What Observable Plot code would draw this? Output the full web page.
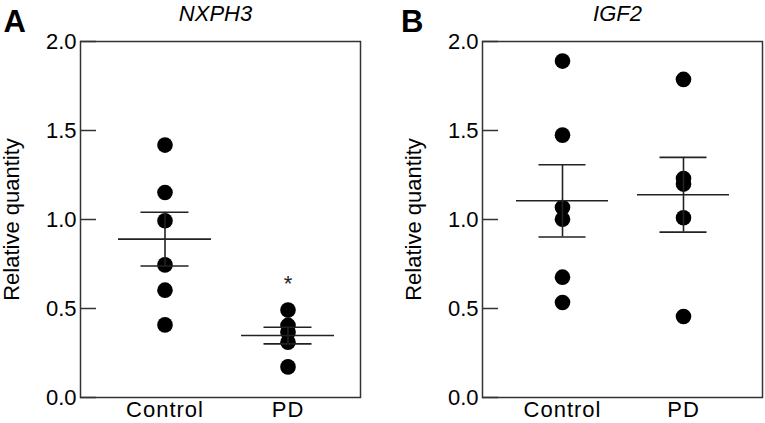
<!DOCTYPE html>
<html>
<head>
<meta charset="utf-8">
<script src="https://cdn.jsdelivr.net/npm/d3@7"></script>
<script src="https://cdn.jsdelivr.net/npm/@observablehq/plot@0.6"></script>
<style>
  html, body { margin: 0; padding: 0; background: #fff; }
  #chart { display: flex; flex-direction: row; width: 765px; height: 423px; }
</style>
</head>
<body>
<div id="chart"></div>
<script>
// ---- data ----
const panelLetters = ["A", "B"];
const genes = ["NXPH3", "IGF2"];
const groups = ["Control", "PD"];
const yTicks = [0, 0.5, 1.0, 1.5, 2.0];
const yLabel = "Relative quantity";

const nxph3Control = [1.418, 1.152, 0.993, 0.745, 0.603, 0.408];
const nxph3PD = [0.491, 0.405, 0.365, 0.31, 0.172];
const nxph3Mean = [0.890, 0.348];
const nxph3Sem = [0.151, 0.047];

const igf2Control = [1.890, 1.474, 1.067, 1.002, 0.676, 0.534];
const igf2PD = [1.787, 1.230, 1.199, 1.010, 0.455];
const igf2Mean = [1.105, 1.139];
const igf2Sem = [0.203, 0.210];

// significance marks: gene, group, y position of the mark, symbol
const sigGene = ["NXPH3"];
const sigGroup = ["PD"];
const sigY = [0.64];
const sigText = ["*"];

const FONT = "'Liberation Sans', Arial, Helvetica, sans-serif";

function panel({letter, gene, control, pd, means, sems, width, marginRight, insetLeft, insetRight, paddingInner, letterDx}) {
  const points = [
    ...control.map(v => ({group: groups[0], value: v})),
    ...pd.map(v => ({group: groups[1], value: v}))
  ];
  const stats = groups.map((g, i) => ({group: g, mean: means[i], lo: means[i] - sems[i], hi: means[i] + sems[i]}));
  const sig = sigGene.map((g, i) => ({gene: g, group: sigGroup[i], y: sigY[i], text: sigText[i]})).filter(d => d.gene === gene);

  const svg = Plot.plot({
    width,
    height: 423,
    marginLeft: 80,
    marginRight,
    marginTop: 41,
    marginBottom: 26,
    style: {fontFamily: FONT, fontSize: "22px", color: "#000", background: "#fff", overflow: "visible"},
    x: {type: "band", domain: groups, paddingInner, paddingOuter: 0, insetLeft, insetRight, label: null},
    y: {domain: [0, 2], label: null},
    marks: [
      Plot.frame({stroke: "#333", strokeWidth: 1.5}),
      // inward tick marks
      Plot.axisY({ticks: yTicks, tickSize: 16, dx: 16, tickFormat: () => "", label: null, stroke: "#333", strokeWidth: 1.5}),
      // tick labels
      Plot.axisY({ticks: yTicks, tickSize: 0, tickPadding: 4, tickFormat: d3.format(".1f"), fontSize: 22, label: null}),
      Plot.axisX({tickSize: 0, tickPadding: 4, fontSize: 22, label: null}),
      // y-axis title
      Plot.text([yLabel], {frameAnchor: "left", rotate: -90, dx: -68.5, text: d => d, fontSize: 22, lineAnchor: "middle", textAnchor: "middle", ariaLabel: "ylabel"}),
      // panel letter and gene title
      Plot.text([letter], {frameAnchor: "top-left", text: d => d, dx: letterDx, dy: -19, fontSize: 31, fontWeight: "bold", textAnchor: "start", lineAnchor: "middle"}),
      Plot.text([gene], {frameAnchor: "top", text: d => d, dx: -5, dy: -27.5, fontSize: 22, fontStyle: "italic", textAnchor: "middle", lineAnchor: "middle", ariaLabel: "genetitle"}),
      // data points
      Plot.dot(points, {x: "group", y: "value", r: 7.8, fill: "#000", stroke: null}),
      // mean and SEM
      Plot.ruleX(stats, {x: "group", y1: "lo", y2: "hi", stroke: "#222", strokeWidth: 1.6}),
      Plot.tickY(stats, {x: "group", y: "mean", stroke: "#222", strokeWidth: 1.6}),
      Plot.tickY(stats, {x: "group", y: "lo", stroke: "#222", strokeWidth: 1.6, insetLeft: 22.5, insetRight: 22.5}),
      Plot.tickY(stats, {x: "group", y: "hi", stroke: "#222", strokeWidth: 1.6, insetLeft: 22.5, insetRight: 22.5}),
      // significance
      Plot.text(sig, {x: "group", y: "y", text: "text", fontSize: 22, lineAnchor: "middle", textAnchor: "middle", fill: "#222"})
    ]
  });
  const s = d3.select(svg);
  s.selectAll('g[aria-label="x-axis tick label"] text').style("letter-spacing", "1px");
  s.selectAll('g[aria-label="ylabel"] text').style("letter-spacing", "1.2px");
  s.selectAll('g[aria-label="genetitle"] text').style("letter-spacing", "3px");
  return svg;
}

const chart = document.getElementById("chart");
chart.appendChild(panel({
  letter: panelLetters[0], gene: genes[0], control: nxph3Control, pd: nxph3PD,
  means: nxph3Mean, sems: nxph3Sem, width: 402, marginRight: 42,
  insetLeft: 37.5, insetRight: 26.5, paddingInner: 0.244, letterDx: -77
}));
chart.appendChild(panel({
  letter: panelLetters[1], gene: genes[1], control: igf2Control, pd: igf2PD,
  means: igf2Mean, sems: igf2Sem, width: 363, marginRight: 3,
  insetLeft: 33.5, insetRight: 32, paddingInner: 0.236, letterDx: -81.5
}));
</script>
</body>
</html>
